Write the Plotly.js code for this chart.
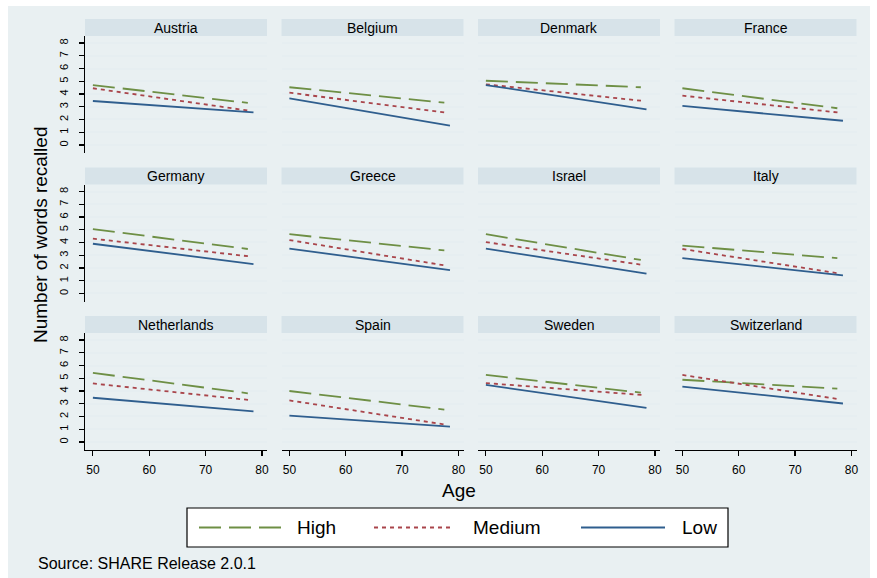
<!DOCTYPE html>
<html>
<head>
<meta charset="utf-8">
<script src="https://cdn.plot.ly/plotly-3.0.1.min.js"></script>
<style>html,body{margin:0;padding:0;background:#fff;}#chart{width:877px;height:578px;}</style>
</head>
<body>
<div id="chart"></div>
<script>
// ---- data ----
const countries = ['Austria','Belgium','Denmark','France','Germany','Greece','Israel','Italy','Netherlands','Spain','Sweden','Switzerland'];
const seriesNames = ['High','Medium','Low'];
const ageHigh = [50, 77.5];
const ageMedium = [50, 78];
const ageLow = [50, 78.5];
const highVals = [[4.70,3.30],[4.53,3.32],[5.04,4.53],[4.45,2.88],[5.05,3.49],[4.65,3.38],[4.65,2.63],[3.76,2.77],[5.42,3.82],[4.00,2.54],[5.26,3.87],[4.88,4.19]];
const mediumVals = [[4.45,2.67],[4.10,2.53],[4.76,3.45],[3.87,2.53],[4.30,2.90],[4.19,2.17],[4.03,2.23],[3.49,1.56],[4.59,3.28],[3.26,1.34],[4.62,3.68],[5.26,3.34]];
const lowVals = [[3.45,2.55],[3.66,1.52],[4.70,2.80],[3.06,1.90],[3.90,2.31],[3.52,1.83],[3.52,1.56],[2.77,1.42],[3.47,2.40],[2.06,1.20],[4.48,2.67],[4.35,3.02]];
const xTicks = [50,60,70,80];
const yTicks = [0,1,2,3,4,5,6,7,8];

// ---- layout geometry ----
const W = 877, H = 578;
const px = x => x / W;
const py = y => 1 - y / H;
const colX0 = [85, 281.5, 478, 674.5];
const panelW = 182;
const rowY0 = [36, 184.5, 333];
const panelH = 117;
const stripH = 17;
const FONT = 'Liberation Sans, Arial, sans-serif';

const colors = {High:'#6e8f45', Medium:'#a9454b', Low:'#2f5e8e'};
const dashes = {High:'22px,8px', Medium:'4px,4px', Low:'solid'};
const ages = {High:ageHigh, Medium:ageMedium, Low:ageLow};
const vals = {High:highVals, Medium:mediumVals, Low:lowVals};

const traces = [];
const layout = {
  width: W, height: H,
  margin: {l:0, r:0, t:0, b:0},
  paper_bgcolor: '#ffffff',
  plot_bgcolor: '#ffffff',
  font: {family: FONT, color: '#000'},
  showlegend: false,
  shapes: [{
    type: 'rect', xref: 'paper', yref: 'paper', layer: 'below',
    x0: px(8), x1: px(870), y0: py(578), y1: py(6),
    fillcolor: '#e9f0f2', line: {width: 0}
  }],
  annotations: []
};

countries.forEach((c, i) => {
  const k = i + 1;
  const col = i % 4, row = Math.floor(i / 4);
  const xa = 'x' + (k > 1 ? k : ''), ya = 'y' + (k > 1 ? k : '');
  seriesNames.forEach(s => {
    traces.push({
      type: 'scatter', mode: 'lines', name: s, legendgroup: s,
      showlegend: false,
      x: ages[s], y: vals[s][i],
      xaxis: xa, yaxis: ya,
      line: {color: colors[s], width: 1.8, dash: dashes[s]},
      hoverinfo: 'skip'
    });
  });
  const x0 = colX0[col], y0 = rowY0[row];
  const bottom = row === 2, left = col === 0;
  layout['xaxis' + (k > 1 ? k : '')] = {
    domain: [px(x0), px(x0 + panelW)], anchor: ya,
    range: [48.6, 80.9], showgrid: false, zeroline: false,
    showline: bottom, linecolor: '#000', linewidth: 1.2,
    ticks: bottom ? 'outside' : '', ticklen: 5, tickcolor: '#000', tickwidth: 1.2,
    tickvals: xTicks, showticklabels: bottom, ticklabelstandoff: 3,
    tickfont: {size: 12, family: FONT, color: '#000'}, fixedrange: true
  };
  layout['yaxis' + (k > 1 ? k : '')] = {
    domain: [py(y0 + panelH), py(y0)], anchor: xa,
    range: [-0.63, 8.55], showgrid: true, gridcolor: '#e6eef1', gridwidth: 2,
    zeroline: false, showline: left, linecolor: '#000', linewidth: 1.2,
    ticks: left ? 'outside' : '', ticklen: 5, tickcolor: '#000', tickwidth: 1.2,
    tickvals: yTicks, showticklabels: left, tickangle: -90, ticklabelstandoff: 6,
    tickfont: {size: 11, family: FONT, color: '#000'}, fixedrange: true
  };
  layout.shapes.push({
    type: 'rect', xref: 'paper', yref: 'paper', layer: 'below',
    x0: px(x0), x1: px(x0 + panelW), y0: py(y0), y1: py(y0 - stripH),
    fillcolor: '#d7e3e9', line: {width: 0}
  });
  layout.annotations.push({
    xref: 'paper', yref: 'paper', x: px(x0 + panelW / 2), y: py(y0 - stripH / 2),
    xanchor: 'center', yanchor: 'middle', showarrow: false,
    text: c, font: {size: 14, family: FONT, color: '#000'}
  });
});

// ---- legend box (keys drawn as styled line samples) ----
const legBox = {x0: 187, x1: 728, y0: 508, y1: 547};
const legKeyX = [[199, 282], [374, 454], [581, 665]];
const legTextX = [295, 471, 680];
const legMidY = (legBox.y0 + legBox.y1) / 2;
layout.shapes.push({
  type: 'rect', xref: 'paper', yref: 'paper', layer: 'above',
  x0: px(legBox.x0), x1: px(legBox.x1), y0: py(legBox.y1), y1: py(legBox.y0),
  fillcolor: '#ffffff', line: {color: '#000', width: 1.2}
});
seriesNames.forEach((s, j) => {
  layout.shapes.push({
    type: 'line', xref: 'paper', yref: 'paper', layer: 'above',
    x0: px(legKeyX[j][0]), x1: px(legKeyX[j][1]), y0: py(legMidY), y1: py(legMidY),
    line: {color: colors[s], width: 1.8, dash: dashes[s]}
  });
  layout.annotations.push({
    xref: 'paper', yref: 'paper', x: px(legTextX[j]), y: py(legMidY), xanchor: 'left', yanchor: 'middle',
    showarrow: false, text: s, font: {size: 19, family: FONT, color: '#000'}
  });
});

layout.annotations.push({
  xref: 'paper', yref: 'paper', x: px(40), y: py(235), xanchor: 'center', yanchor: 'middle',
  showarrow: false, textangle: -90, text: 'Number of words recalled',
  font: {size: 19, family: FONT, color: '#000'}
});
layout.annotations.push({
  xref: 'paper', yref: 'paper', x: px(459), y: py(490), xanchor: 'center', yanchor: 'middle',
  showarrow: false, text: 'Age', font: {size: 19, family: FONT, color: '#000'}
});
layout.annotations.push({
  xref: 'paper', yref: 'paper', x: px(36), y: py(563), xanchor: 'left', yanchor: 'middle',
  showarrow: false, text: 'Source: SHARE Release 2.0.1', font: {size: 16, family: FONT, color: '#000'}
});

Plotly.newPlot('chart', traces, layout, {displayModeBar: false, staticPlot: true});
</script>
</body>
</html>
